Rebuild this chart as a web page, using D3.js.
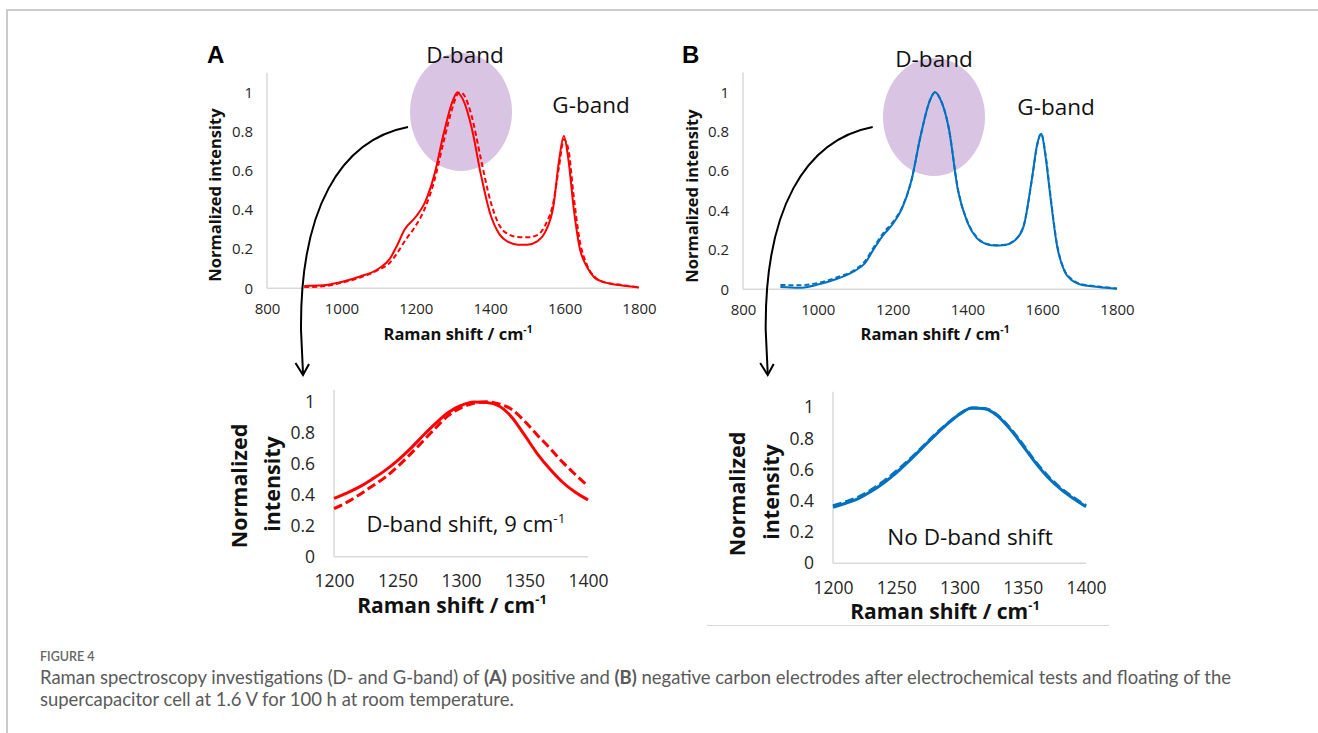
<!DOCTYPE html>
<html><head><meta charset="utf-8">
<script src="https://cdn.jsdelivr.net/npm/d3@7"></script>
<style>html,body{margin:0;padding:0;background:#fff;} svg{display:block;}</style>
</head><body>
<svg id="chart" width="1318" height="733"></svg>
<script>
// ---------- DATA ----------
// Panel A (positive electrode), full spectrum
const shiftA = [900,950,1000,1050,1100,1130,1150,1170,1200,1225,1250,1275,1300,1312,1320,1330,1350,1375,1400,1425,1450,1475,1500,1525,1550,1570,1585,1598,1610,1625,1640,1660,1680,1700,1750,1800];
const solidA = [0.012,0.015,0.032,0.06,0.10,0.15,0.22,0.30,0.365,0.44,0.58,0.79,0.96,1.0,0.985,0.95,0.82,0.58,0.38,0.275,0.235,0.222,0.222,0.238,0.295,0.42,0.65,0.777,0.66,0.40,0.21,0.11,0.055,0.035,0.015,0.004];
const dashedA = [0.006,0.01,0.028,0.055,0.095,0.13,0.18,0.24,0.32,0.41,0.55,0.75,0.93,0.99,1.0,0.985,0.88,0.66,0.45,0.32,0.275,0.262,0.26,0.27,0.33,0.44,0.62,0.76,0.71,0.46,0.25,0.12,0.06,0.035,0.018,0.005];
// Panel B (negative electrode), full spectrum
const shiftB = [900,950,1000,1050,1100,1125,1150,1175,1200,1225,1250,1275,1300,1313,1325,1350,1375,1400,1425,1450,1475,1500,1525,1550,1572,1587,1597,1610,1620,1640,1660,1680,1700,1750,1800];
const solidB = [0.012,0.008,0.024,0.052,0.095,0.13,0.205,0.275,0.33,0.41,0.55,0.78,0.96,1.0,0.975,0.82,0.5,0.34,0.26,0.23,0.222,0.225,0.245,0.318,0.555,0.74,0.79,0.66,0.5,0.217,0.09,0.045,0.026,0.012,0.003];
const dashedB = [0.022,0.02,0.032,0.06,0.1,0.14,0.215,0.285,0.34,0.415,0.55,0.78,0.96,1.0,0.975,0.82,0.505,0.345,0.265,0.232,0.224,0.226,0.247,0.32,0.55,0.735,0.79,0.67,0.51,0.225,0.095,0.05,0.028,0.014,0.004];
// Zoomed D-band region
const shiftZoom = [1200,1210,1220,1230,1240,1250,1260,1270,1280,1290,1300,1310,1320,1330,1340,1350,1360,1370,1380,1390,1400];
const zoomSolidA = [0.376,0.41,0.45,0.50,0.555,0.62,0.695,0.78,0.86,0.93,0.975,0.998,0.995,0.972,0.9,0.785,0.665,0.565,0.48,0.415,0.366];
const zoomDashedA = [0.31,0.35,0.40,0.455,0.51,0.58,0.66,0.745,0.83,0.91,0.96,0.99,1.0,0.985,0.95,0.875,0.785,0.70,0.61,0.53,0.456];
const zoomSolidB = [0.359,0.385,0.415,0.46,0.515,0.58,0.655,0.735,0.815,0.89,0.955,0.995,0.99,0.945,0.86,0.755,0.645,0.55,0.475,0.415,0.363];
const zoomDashedB = [0.368,0.395,0.425,0.47,0.525,0.59,0.662,0.74,0.82,0.893,0.957,0.996,0.992,0.95,0.866,0.762,0.652,0.558,0.482,0.422,0.37];
// Tick labels
const fullXTicks = [800,1000,1200,1400,1600,1800];
const zoomXTicks = [1200,1250,1300,1350,1400];
const yTicks = [0,0.2,0.4,0.6,0.8,1];

// ---------- DRAW ----------
const svg = d3.select("#chart");
const FONT = "'Open Sans', Lato, 'Liberation Sans', sans-serif";
const RED = "#ff0000", BLUE = "#0070c0", PURPLE = "#d9c4e3", AXIS = "#d9d9d9";

// card border
svg.append("path").attr("d","M7,733 L7,10 L1318,10").attr("fill","none").attr("stroke","#cccccc").attr("stroke-width",2);

function panel(c) {
  const x = d3.scaleLinear().domain(c.xDomain).range(c.xRange);
  const y = d3.scaleLinear().domain(c.yDomain).range(c.yRange);
  const g = svg.append("g");
  if (c.ellipse) {
    g.append("ellipse").attr("cx",c.ellipse[0]).attr("cy",c.ellipse[1]).attr("rx",c.ellipse[2]).attr("ry",c.ellipse[3]).attr("fill",PURPLE);
  }
  g.append("line").attr("x1",x(c.xDomain[0])).attr("x2",x(c.xDomain[0])).attr("y1",y(0)).attr("y2",y(c.yDomain[1]))
    .attr("stroke",AXIS).attr("stroke-width",1.5);
  g.append("line").attr("x1",x(c.xDomain[0])).attr("x2",x(c.xDomain[1])).attr("y1",y(0)).attr("y2",y(0))
    .attr("stroke",AXIS).attr("stroke-width",1.5);
  const xa = g.append("g").attr("transform",`translate(0,${y(0)})`)
    .call(d3.axisBottom(x).tickValues(c.xTicks).tickSize(0).tickPadding(c.xPad).tickFormat(d3.format("d")));
  xa.select(".domain").remove();
  xa.selectAll("text").attr("font-family",FONT).attr("font-size",c.tickSize).attr("fill","#262626");
  const ya = g.append("g").attr("transform",`translate(${x(c.xDomain[0])},0)`)
    .call(d3.axisLeft(y).tickValues(yTicks).tickSize(0).tickPadding(c.yPad).tickFormat(d => String(+d.toFixed(1))));
  ya.select(".domain").remove();
  ya.selectAll("text").attr("font-family",FONT).attr("font-size",c.tickSize).attr("fill","#262626");
  c.series.forEach(s => {
    const line = d3.line().x((d,i) => x(s.xs[i])).y(d => y(d)).curve(d3.curveMonotoneX);
    g.append("path").datum(s.ys).attr("d",line).attr("fill","none").attr("stroke",c.color)
      .attr("stroke-width",c.lw).attr("stroke-dasharray",s.dash || null).attr("stroke-linejoin","round");
  });
  const xt = g.append("text").attr("x",c.xTitle[0]).attr("y",c.xTitle[1]).attr("text-anchor","middle")
    .attr("font-family",FONT).attr("font-weight","bold").attr("font-size",c.titleSize).attr("fill","#111");
  xt.append("tspan").text("Raman shift / cm");
  xt.append("tspan").text("-1").attr("font-size",c.titleSize*0.62).attr("dy",-c.titleSize*0.42);
  c.yTitle.forEach(t => {
    g.append("text").attr("transform",`translate(${t.x},${t.y}) rotate(-90)`).attr("text-anchor","middle")
      .attr("font-family",FONT).attr("font-weight","bold").attr("font-size",c.yTitleSize).attr("fill","#111").text(t.text);
  });
  return {x,y,g};
}

panel({
  xDomain:[800,1800], xRange:[267,639], yDomain:[0,1.1], yRange:[288.3,72.7],
  xTicks: fullXTicks, xPad:15, yPad:14, tickSize:15, lw:2, color:RED,
  ellipse:[461,112,51,59],
  series:[{xs:shiftA, ys:solidA},{xs:shiftA, ys:dashedA, dash:"5,3"}],
  xTitle:[458,340], titleSize:16.5, yTitleSize:16.5,
  yTitle:[{x:221,y:195,text:"Normalized intensity"}]
});
panel({
  xDomain:[800,1800], xRange:[743,1117], yDomain:[0,1.1], yRange:[289.3,72.6],
  xTicks: fullXTicks, xPad:15, yPad:14, tickSize:15, lw:2, color:BLUE,
  ellipse:[934,117,51,59],
  series:[{xs:shiftB, ys:solidB},{xs:shiftB, ys:dashedB, dash:"5,3"}],
  xTitle:[935,340], titleSize:16.5, yTitleSize:16.5,
  yTitle:[{x:698,y:196,text:"Normalized intensity"}]
});
panel({
  xDomain:[1200,1400], xRange:[334,588], yDomain:[0,1.075], yRange:[556.7,390],
  xTicks: zoomXTicks, xPad:18, yPad:19, tickSize:17.5, lw:3, color:RED,
  series:[{xs:shiftZoom, ys:zoomSolidA},{xs:shiftZoom, ys:zoomDashedA, dash:"9,4"}],
  xTitle:[452,613], titleSize:21, yTitleSize:21.5,
  yTitle:[{x:247,y:486,text:"Normalized"},{x:280,y:484,text:"intensity"}]
});
panel({
  xDomain:[1200,1400], xRange:[833,1086], yDomain:[0,1.1], yRange:[563.3,391.7],
  xTicks: zoomXTicks, xPad:18, yPad:19, tickSize:17.5, lw:3, color:BLUE,
  series:[{xs:shiftZoom, ys:zoomSolidB},{xs:shiftZoom, ys:zoomDashedB, dash:"9,4"}],
  xTitle:[945,619], titleSize:21, yTitleSize:21.5,
  yTitle:[{x:745,y:494,text:"Normalized"},{x:779,y:492,text:"intensity"}]
});
svg.append("line").attr("x1",707).attr("x2",1109).attr("y1",625.5).attr("y2",625.5).attr("stroke","#d9d9d9").attr("stroke-width",1);

function txt(x,y,s,size,weight,anchor,fill){
  return svg.append("text").attr("x",x).attr("y",y).attr("font-family",FONT).attr("font-size",size)
    .attr("font-weight",weight||"normal").attr("text-anchor",anchor||"start").attr("fill",fill||"#111").text(s);
}
txt(207,63,"A",24,"bold","start","#000").attr("font-family","'Liberation Sans', Arial, sans-serif");
txt(682,63,"B",24,"bold","start","#000").attr("font-family","'Liberation Sans', Arial, sans-serif");
txt(465,63,"D-band",22.5,"normal","middle");
txt(591,113,"G-band",22.5,"normal","middle");
txt(934,67,"D-band",22.5,"normal","middle");
txt(1056,115,"G-band",22.5,"normal","middle");
const annA = txt(466,532,"D-band shift, 9 cm",22,"normal","middle");
annA.append("tspan").text("-1").attr("font-size",13.5).attr("dy",-9);
txt(970,545,"No D-band shift",22.5,"normal","middle");

function arrow(dx){
  const p = d3.path();
  p.moveTo(408+dx,127);
  p.bezierCurveTo(340+dx,140,300+dx,210,301+dx,330);
  p.lineTo(303+dx,373);
  svg.append("path").attr("d",p.toString()).attr("fill","none").attr("stroke","#000").attr("stroke-width",2);
  svg.append("path").attr("d",`M${295.5+dx},363 L${303+dx},375 L${309+dx},364`).attr("fill","none")
    .attr("stroke","#000").attr("stroke-width",2).attr("stroke-linejoin","miter");
}
arrow(0);
arrow(464.7);

const CAP = "Lato, 'Open Sans', sans-serif";
svg.append("text").attr("x",40).attr("y",661).attr("font-family",CAP).attr("font-size",12.5).attr("font-weight",600)
  .attr("fill","#666").text("FIGURE 4");
const l1 = svg.append("text").attr("x",40).attr("y",684).attr("font-family",CAP).attr("font-size",15.5).attr("fill","#5a5a5a");
l1.append("tspan").text("Raman spectroscopy investigations (D- and G-band) of ");
l1.append("tspan").text("(A)").attr("font-weight","bold");
l1.append("tspan").text(" positive and ");
l1.append("tspan").text("(B)").attr("font-weight","bold");
l1.append("tspan").text(" negative carbon electrodes after electrochemical tests and floating of the");
const l2 = svg.append("text").attr("x",40).attr("y",706).attr("font-family",CAP).attr("font-size",15.5).attr("fill","#5a5a5a")
  .text("supercapacitor cell at 1.6 V for 100 h at room temperature.");
// scale caption font so line 1 spans the same width as in the original
const target = 1192;
const len = l1.node().getComputedTextLength();
if (len > 0) {
  const fs = 15.5 * target / len;
  l1.attr("font-size", fs); l2.attr("font-size", fs);
}
</script></body></html>
